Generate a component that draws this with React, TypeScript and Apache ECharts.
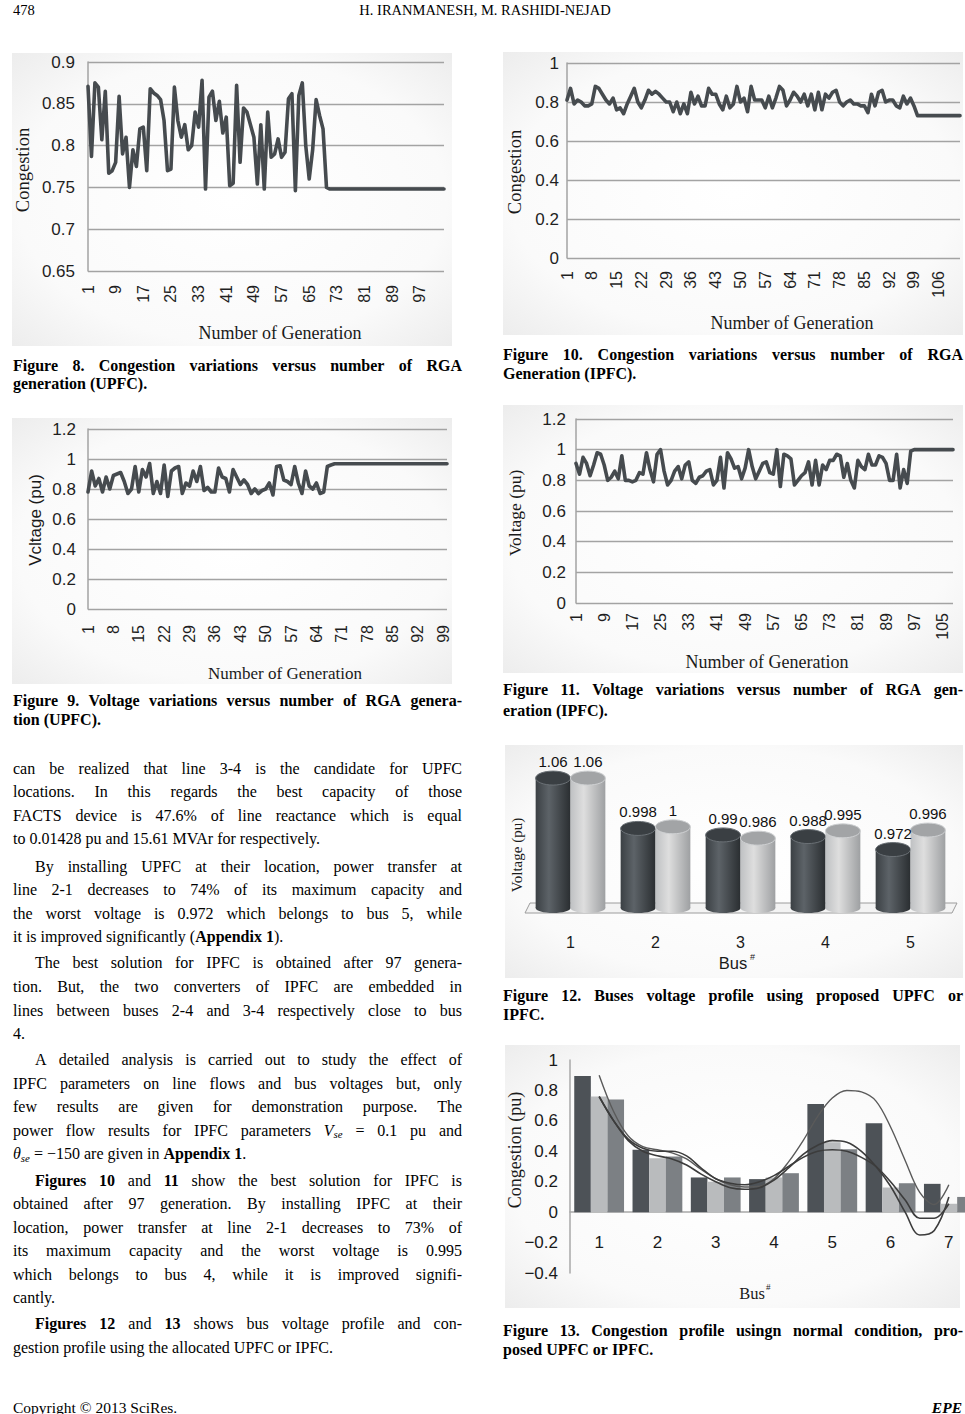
import React, { useEffect, useRef } from 'react';
import * as echarts from 'echarts';

const SERIF = "'Liberation Serif'";
const SANS = "'Liberation Sans'";
const LINE = '#464b4f';
const GRIDC = '#a3a3a3';

// ---------- Figure 8: Congestion (UPFC) ----------
const fig8Congestion = [
  0.871, 0.787, 0.875, 0.87, 0.807, 0.865, 0.767, 0.77, 0.78, 0.859,
  0.79, 0.81, 0.75, 0.795, 0.775, 0.82, 0.822, 0.77, 0.868, 0.863,
  0.86, 0.855, 0.83, 0.77, 0.772, 0.87, 0.83, 0.81, 0.825, 0.795,
  0.8, 0.84, 0.822, 0.878, 0.748, 0.858, 0.865, 0.83, 0.853, 0.815,
  0.834, 0.752, 0.755, 0.872, 0.78, 0.845, 0.84, 0.825, 0.81, 0.754,
  0.825, 0.748, 0.84, 0.786, 0.79, 0.808, 0.786, 0.792, 0.856, 0.862,
  0.746, 0.86, 0.875, 0.8, 0.76, 0.795, 0.855, 0.836, 0.82, 0.75,
  0.748, 0.748, 0.748, 0.748, 0.748, 0.748, 0.748, 0.748, 0.748, 0.748,
  0.748, 0.748, 0.748, 0.748, 0.748, 0.748, 0.748, 0.748, 0.748, 0.748,
  0.748, 0.748, 0.748, 0.748, 0.748, 0.748, 0.748, 0.748, 0.748, 0.748,
  0.748, 0.748, 0.748, 0.748,
];

// ---------- Figure 9: Voltage (UPFC) ----------
const fig9Voltage = [
  0.78, 0.92, 0.82, 0.87, 0.78, 0.88, 0.8, 0.89, 0.9, 0.91,
  0.85, 0.77, 0.8, 0.95, 0.78, 0.93, 0.88, 0.97, 0.77, 0.85,
  0.77, 0.96, 0.75, 0.92, 0.94, 0.95, 0.77, 0.84, 0.82, 0.92,
  0.85, 0.95, 0.79, 0.81, 0.78, 0.78, 0.94, 0.88, 0.87, 0.78,
  0.93, 0.88, 0.83, 0.86, 0.83, 0.77, 0.8, 0.77, 0.79, 0.8,
  0.84, 0.76, 0.95, 0.955, 0.86, 0.85, 0.83, 0.95, 0.84, 0.77,
  0.92, 0.82, 0.8, 0.84, 0.77, 0.78, 0.95, 0.96, 0.968, 0.968,
  0.968, 0.968, 0.968, 0.968, 0.968, 0.968, 0.968, 0.968, 0.968, 0.968,
  0.968, 0.968, 0.968, 0.968, 0.968, 0.968, 0.968, 0.968, 0.968, 0.968,
  0.968, 0.968, 0.968, 0.968, 0.968, 0.968, 0.968, 0.968, 0.968, 0.968,
];

// ---------- Figure 10: Congestion (IPFC) ----------
const fig10Congestion = [
  0.81, 0.87, 0.79, 0.81, 0.8, 0.78, 0.78, 0.79, 0.88, 0.87,
  0.84, 0.81, 0.79, 0.82, 0.76, 0.77, 0.74, 0.79, 0.83, 0.87,
  0.8, 0.77, 0.81, 0.86, 0.84, 0.855, 0.84, 0.82, 0.8, 0.8,
  0.75, 0.8, 0.74, 0.79, 0.74, 0.85, 0.79, 0.83, 0.78, 0.78,
  0.87, 0.84, 0.84, 0.79, 0.76, 0.83, 0.77, 0.79, 0.88, 0.8,
  0.82, 0.75, 0.88, 0.81, 0.81, 0.81, 0.77, 0.83, 0.77, 0.82,
  0.88, 0.86, 0.78, 0.81, 0.85, 0.83, 0.8, 0.84, 0.78, 0.84,
  0.76, 0.85, 0.76, 0.84, 0.82, 0.85, 0.86, 0.8, 0.78, 0.8,
  0.81, 0.79, 0.79, 0.78, 0.78, 0.745, 0.84, 0.78, 0.85, 0.86,
  0.8, 0.81, 0.81, 0.78, 0.77, 0.83, 0.79, 0.82, 0.78, 0.73,
  0.73, 0.73, 0.73, 0.73, 0.73, 0.73, 0.73, 0.73, 0.73, 0.73,
  0.73, 0.73,
];

// ---------- Figure 11: Voltage (IPFC) ----------
const fig11Voltage = [
  0.91, 0.84, 0.95, 0.91, 0.83, 0.9, 0.98, 0.97, 0.9, 0.8,
  0.82, 0.86, 0.81, 0.96, 0.8, 0.8, 0.79, 0.8, 0.85, 0.84,
  0.98, 0.87, 0.79, 0.97, 1.0, 0.86, 0.77, 0.8, 0.86, 0.89,
  0.81, 0.9, 0.92, 0.8, 0.78, 0.82, 0.83, 0.86, 0.87, 0.77,
  0.8, 0.95, 0.75, 0.98, 0.94, 0.88, 0.89, 0.81, 0.88, 1.0,
  0.89, 0.81, 0.86, 0.91, 0.92, 0.85, 0.84, 1.0, 0.76, 0.97,
  0.96, 0.94, 0.77, 0.8, 0.83, 0.85, 0.92, 0.77, 0.93, 0.77,
  0.9, 0.87, 0.93, 0.93, 0.97, 0.96, 0.82, 0.91, 0.8, 0.75,
  0.93, 0.89, 0.87, 0.97, 0.9, 0.9, 0.96, 0.95, 0.91, 0.8,
  0.8, 0.97, 0.75, 0.87, 0.78, 0.99, 1.0, 1.0, 1.0, 1.0,
  1.0, 1.0, 1.0, 1.0, 1.0, 1.0, 1.0, 1.0,
];

// ---------- Figure 12: bus voltage profile ----------
const fig12Buses = ['1', '2', '3', '4', '5'];
const fig12Upfc = [1.06, 0.998, 0.99, 0.988, 0.972];
const fig12Ipfc = [1.06, 1, 0.986, 0.995, 0.996];

// ---------- Figure 13: congestion profile ----------
const fig13Buses = ['1', '2', '3', '4', '5', '6', '7'];
const fig13Normal = [0.895, 0.41, 0.228, 0.217, 0.71, 0.584, 0.186];
const fig13Upfc = [0.76, 0.355, 0.2, 0.228, 0.46, 0.162, 0.055];
const fig13Ipfc = [0.74, 0.365, 0.228, 0.256, 0.414, 0.19, 0.1];
const trendX = [1, 1.25, 1.5, 1.75, 2, 2.25, 2.5, 2.75, 3, 3.25, 3.5, 3.75, 4, 4.25, 4.5, 4.75, 5, 5.25, 5.5, 5.75, 6, 6.25, 6.5, 6.75, 7];
const trendNormal = [0.9, 0.66, 0.5, 0.43, 0.41, 0.39, 0.35, 0.28, 0.22, 0.18, 0.165, 0.17, 0.22, 0.33, 0.47, 0.63, 0.75, 0.8, 0.79, 0.73, 0.56, 0.34, 0.13, 0.05, 0.18];
const trendUpfc = [0.76, 0.6, 0.47, 0.4, 0.37, 0.35, 0.31, 0.25, 0.2, 0.16, 0.15, 0.16, 0.21, 0.29, 0.38, 0.44, 0.47, 0.46, 0.4, 0.3, 0.17, 0.0, -0.15, -0.12, 0.1];
const trendIpfc = [0.76, 0.6, 0.48, 0.42, 0.4, 0.4, 0.37, 0.29, 0.22, 0.19, 0.18, 0.2, 0.24, 0.3, 0.36, 0.4, 0.41, 0.4, 0.36, 0.3, 0.2, 0.08, -0.04, -0.04, 0.055];

// ---------- Page text ----------
const headerLeft = '478';
const headerTitle = 'H. IRANMANESH, M. RASHIDI-NEJAD';
const footerLeft = 'Copyright © 2013 SciRes.';
const footerRight = 'EPE';

type Line = { t: string; y: number; indent?: boolean; end?: boolean };

const bodyLines: Line[] = [
  { t: 'can be realized that line 3-4 is the candidate for UPFC', y: 768 },
  { t: 'locations. In this regards the best capacity of those', y: 791.5 },
  { t: 'FACTS device is 47.6% of line reactance which is equal', y: 815 },
  { t: 'to 0.01428 pu and 15.61 MVAr for respectively.', y: 838.5, end: true },
  { t: 'By installing UPFC at their location, power transfer at', y: 866, indent: true },
  { t: 'line 2-1 decreases to 74% of its maximum capacity and', y: 889.5 },
  { t: 'the worst voltage is 0.972 which belongs to bus 5, while', y: 913 },
  { t: 'it is improved significantly (*Appendix* *1*).', y: 936.5, end: true },
  { t: 'The best solution for IPFC is obtained after 97 genera-', y: 962.5, indent: true },
  { t: 'tion. But, the two converters of IPFC are embedded in', y: 986 },
  { t: 'lines between buses 2-4 and 3-4 respectively close to bus', y: 1010 },
  { t: '4.', y: 1033, end: true },
  { t: 'A detailed analysis is carried out to study the effect of', y: 1059.5, indent: true },
  { t: 'IPFC parameters on line flows and bus voltages but, only', y: 1083 },
  { t: 'few results are given for demonstration purpose. The', y: 1106.5 },
  { t: 'power flow results for IPFC parameters _V_~se~ = 0.1 pu and', y: 1130 },
  { t: '_θ_~se~ = −150 are given in *Appendix* *1*.', y: 1153.5, end: true },
  { t: '*Figures* *10* and *11* show the best solution for IPFC is', y: 1180, indent: true },
  { t: 'obtained after 97 generation. By installing IPFC at their', y: 1203.5 },
  { t: 'location, power transfer at line 2-1 decreases to 73% of', y: 1227 },
  { t: 'its maximum capacity and the worst voltage is 0.995', y: 1250.5 },
  { t: 'which belongs to bus 4, while it is improved signifi-', y: 1274 },
  { t: 'cantly.', y: 1297.5, end: true },
  { t: '*Figures* *12* and *13* shows bus voltage profile and con-', y: 1323.5, indent: true },
  { t: 'gestion profile using the allocated UPFC or IPFC.', y: 1347, end: true },
];

const leftCaptions: Line[] = [
  { t: 'Figure 8. Congestion variations versus number of RGA', y: 365 },
  { t: 'generation (UPFC).', y: 383.5, end: true },
  { t: 'Figure 9. Voltage variations versus number of RGA genera-', y: 700 },
  { t: 'tion (UPFC).', y: 719, end: true },
];
const rightCaptions: Line[] = [
  { t: 'Figure 10. Congestion variations versus number of RGA', y: 354 },
  { t: 'Generation (IPFC).', y: 373.5, end: true },
  { t: 'Figure 11. Voltage variations versus number of RGA gen-', y: 689 },
  { t: 'eration (IPFC).', y: 710, end: true },
  { t: 'Figure 12. Buses voltage profile using proposed UPFC or', y: 995 },
  { t: 'IPFC.', y: 1014, end: true },
  { t: 'Figure 13. Congestion profile usingn normal condition, pro-', y: 1330 },
  { t: 'posed UPFC or IPFC.', y: 1349, end: true },
];

// ---------- helpers ----------
type Seg = { t: string; b?: boolean; i?: boolean; sub?: boolean };
function parseWord(w: string): Seg[] {
  const out: Seg[] = [];
  const re = /\*([^*]+)\*|_([^_]+)_|~([^~]+)~|([^*_~]+)/g;
  let m: RegExpExecArray | null;
  while ((m = re.exec(w))) {
    if (m[1]) out.push({ t: m[1], b: true });
    else if (m[2]) out.push({ t: m[2], i: true });
    else if (m[3]) out.push({ t: m[3], i: true, sub: true });
    else if (m[4]) out.push({ t: m[4] });
  }
  return out;
}

let mctx: CanvasRenderingContext2D | null = null;
function measure(text: string, font: string) {
  if (!mctx) mctx = document.createElement('canvas').getContext('2d');
  mctx!.font = font;
  return mctx!.measureText(text).width;
}
function fontOf(size: number, family: string, bold?: boolean, italic?: boolean) {
  return `${italic ? 'italic ' : ''}${bold ? 'bold ' : ''}${size}px ${family}`;
}

function layoutLines(out: any[], lines: Line[], x0: number, x1: number, size: number, bold: boolean, indent: number) {
  lines.forEach((ln) => {
    const start = x0 + (ln.indent ? indent : 0);
    const words = ln.t.split(' ').filter(Boolean).map(parseWord);
    const segFont = (s: Seg) => fontOf(s.sub ? size * 0.68 : size, SERIF, bold || s.b, s.i);
    const widths = words.map((segs) => segs.reduce((a, s) => a + measure(s.t, segFont(s)), 0));
    const total = widths.reduce((a, b) => a + b, 0);
    const space = measure(' ', fontOf(size, SERIF, bold));
    const gap = !ln.end && words.length > 1 ? (x1 - start - total) / (words.length - 1) : space;
    let x = start;
    words.forEach((segs, i) => {
      let sx = x;
      segs.forEach((s) => {
        out.push({
          type: 'text', x: sx, y: s.sub ? ln.y + 4 : ln.y, silent: true, z: 10,
          style: { text: s.t, font: segFont(s), fill: '#000', align: 'left', verticalAlign: 'middle', textAlign: 'left', textVerticalAlign: 'middle' },
        });
        sx += measure(s.t, segFont(s));
      });
      x += widths[i] + gap;
    });
  });
}

function label(text: string, x: number, y: number, size: number, family: string, opts: any = {}) {
  return {
    type: 'text', x, y, rotation: opts.rotate ? Math.PI / 2 : 0, silent: true, z: 10,
    style: {
      text, font: fontOf(size, family, opts.bold, opts.italic), fill: opts.fill || '#1a1a1a',
      align: opts.align || 'center', verticalAlign: 'middle', textAlign: opts.align || 'center', textVerticalAlign: 'middle',
    },
  };
}

function panel(x: number, y: number, w: number, h: number) {
  return {
    type: 'rect', z: -5, silent: true,
    shape: { x, y, width: w, height: h },
    style: {
      fill: new echarts.graphic.RadialGradient(0.5, 0.5, 0.75, [
        { offset: 0, color: '#ffffff' },
        { offset: 0.65, color: '#fafafa' },
        { offset: 1, color: '#eaeaea' },
      ]),
    },
  };
}

const fmt = (d: number) => (v: number) => {
  const r = Math.round(Math.abs(v) * Math.pow(10, d)) / Math.pow(10, d);
  return (v < 0 ? '−' : '') + String(r);
};

const cats = (n: number) => Array.from({ length: n }, (_, i) => String(i + 1));

function lineX(grid: number, n: number, interval: number, margin: number, shift: number) {
  return {
    type: 'category', gridIndex: grid, data: cats(n), boundaryGap: false,
    axisLine: { show: false }, axisTick: { show: false }, splitLine: { show: false },
    axisLabel: {
      interval, rotate: 90, margin, fontSize: 16, fontFamily: SANS, color: '#1f1f1f',
      padding: [shift * 2, 0, 0, 0],
    },
  };
}
function lineY(grid: number, min: number, max: number, interval: number, margin: number, d: number) {
  return {
    type: 'value', gridIndex: grid, min, max, interval,
    axisLine: { show: true, onZero: false, lineStyle: { color: GRIDC, width: 1.5 } },
    axisTick: { show: false },
    splitLine: { show: true, lineStyle: { color: GRIDC, width: 1.3 } },
    axisLabel: { margin, fontSize: 17, fontFamily: SANS, color: '#1f1f1f', formatter: fmt(d) },
  };
}
function lineSeries(idx: number, data: number[]) {
  return {
    type: 'line', xAxisIndex: idx, yAxisIndex: idx, data, symbol: 'none', silent: true,
    lineStyle: { color: LINE, width: 3.6, join: 'round', cap: 'round' },
  };
}

function cylinder(name: string, data: number[], side: number, body: string[], cap: string, capStroke: string) {
  return {
    type: 'custom', name, xAxisIndex: 4, yAxisIndex: 4, silent: true,
    data: data.map((v, i) => [i, v]),
    renderItem: (params: any, api: any) => {
      const cat = api.value(0);
      const val = api.value(1);
      const top = api.coord([cat, val]);
      const base = api.coord([cat, 0.9]);
      const band = api.size([1, 0])[0];
      const w = band * 0.41;
      const cx = top[0] + side * w / 2;
      const rx = w / 2;
      const grad = new echarts.graphic.LinearGradient(0, 0, 1, 0, [
        { offset: 0, color: body[0] },
        { offset: 0.38, color: body[1] },
        { offset: 1, color: body[2] },
      ]);
      return {
        type: 'group',
        children: [
          { type: 'ellipse', shape: { cx, cy: base[1], rx, ry: 5 }, style: { fill: grad } },
          {
            type: 'rect', shape: { x: cx - rx, y: top[1], width: w, height: base[1] - top[1] }, style: { fill: grad },
            textContent: { style: { text: String(val), fontSize: 15, fontFamily: SANS, fill: '#111' } },
            textConfig: { position: 'top', distance: 9 },
          },
          { type: 'ellipse', shape: { cx, cy: top[1], rx, ry: 7 }, style: { fill: cap, stroke: capStroke, lineWidth: 1 } },
        ],
      };
    },
  };
}

function buildOption() {
  const g: any[] = [];
  // panels
  g.push(panel(12, 53, 440, 293));
  g.push(panel(12, 418, 440, 266));
  g.push(panel(503, 52, 460, 283));
  g.push(panel(503, 405, 460, 268));
  g.push(panel(505, 745, 458, 233));
  g.push(panel(505, 1045, 455, 263));

  // header / footer
  g.push(label(headerLeft, 13, 10, 14.5, SERIF, { align: 'left', fill: '#000' }));
  g.push(label(headerTitle, 485, 10, 14.5, SERIF, { fill: '#000' }));
  g.push(label(footerLeft, 13, 1407, 15.5, SERIF, { align: 'left', fill: '#000' }));
  g.push(label(footerRight, 962, 1407, 15.5, SERIF, { align: 'right', bold: true, italic: true, fill: '#000' }));

  // axis names
  g.push(label('Congestion', 23, 170, 18.5, SERIF, { rotate: true }));
  g.push(label('Number of Generation', 280, 333, 18, SERIF));
  g.push(label('Vcltage (pu)', 35, 520, 17, SANS, { rotate: true }));
  g.push(label('Number of Generation', 285, 673, 17, SERIF));
  g.push(label('Congestion', 515, 172, 18.5, SERIF, { rotate: true }));
  g.push(label('Number of Generation', 792, 323, 18, SERIF));
  g.push(label('Voltage (pu)', 515, 513, 17.5, SERIF, { rotate: true }));
  g.push(label('Number of Generation', 767, 662, 18, SERIF));
  g.push(label('Voltage (pu)', 517, 855, 15, SERIF, { rotate: true }));
  g.push(label('Bus', 733, 963, 16.5, SANS));
  g.push(label('#', 750, 957, 9, SANS, { align: 'left' }));
  g.push(label('Congestion (pu)', 515, 1150, 18, SERIF, { rotate: true }));
  g.push(label('Bus', 752, 1293, 16.5, SERIF));
  g.push(label('#', 766, 1287, 9, SERIF, { align: 'left' }));

  // floor of figure 12
  g.push({
    type: 'polygon', z: 1, silent: true,
    shape: { points: [[530, 903], [957, 903], [952, 913], [525, 913]] },
    style: { fill: '#f3f3f3', stroke: '#9c9c9c', lineWidth: 1 },
  });

  // paragraph text and captions
  layoutLines(g, bodyLines, 13, 462, 16, false, 22);
  layoutLines(g, leftCaptions, 13, 462, 16, true, 0);
  layoutLines(g, rightCaptions, 503, 963, 16, true, 0);

  const grids = [
    { left: 88, top: 62, width: 356, height: 209 },
    { left: 88, top: 429, width: 359, height: 180 },
    { left: 567, top: 63, width: 393, height: 195 },
    { left: 576, top: 419, width: 377, height: 184 },
    { left: 528, top: 745.6, width: 425, height: 162.4 },
    { left: 570, top: 1060, width: 408, height: 213 },
    // upper part of figure 13 (value 0 .. 1), carries the bus axis on the zero line
    { left: 570, top: 1060, width: 408, height: 152.14 },
  ].map((o) => ({ ...o, containLabel: false, outerBoundsMode: 'none' }));

  return {
    animation: false,
    backgroundColor: '#ffffff',
    grid: grids,
    xAxis: [
      lineX(0, fig8Congestion.length, 7, 14, 8),
      lineX(1, fig9Voltage.length, 6, 16, 1),
      lineX(2, fig10Congestion.length, 6, 13, 8),
      lineX(3, fig11Voltage.length, 7, 10, 3),
      {
        type: 'category', gridIndex: 4, data: fig12Buses,
        axisLine: { show: false }, axisTick: { show: false },
        axisLabel: { margin: 26, fontSize: 16, fontFamily: SANS, color: '#1a1a1a' },
      },
      {
        type: 'category', gridIndex: 5, data: fig13Buses,
        axisLine: { show: false }, axisTick: { show: false }, axisLabel: { show: false },
      },
      { type: 'value', gridIndex: 5, min: 0.5, max: 7.5, show: false },
      {
        type: 'category', gridIndex: 6, data: fig13Buses, position: 'bottom',
        axisLine: { show: true, onZero: false, lineStyle: { color: '#a8a8a8', width: 1.5 } },
        axisTick: { show: false },
        axisLabel: { margin: 22, fontSize: 17, fontFamily: SANS, color: '#1a1a1a' },
      },
    ],
    yAxis: [
      lineY(0, 0.65, 0.9, 0.05, 13, 2),
      lineY(1, 0, 1.2, 0.2, 12, 1),
      lineY(2, 0, 1, 0.2, 8, 1),
      lineY(3, 0, 1.2, 0.2, 10, 1),
      { type: 'value', gridIndex: 4, min: 0.9, max: 1.1, show: false },
      {
        type: 'value', gridIndex: 5, min: -0.4, max: 1, interval: 0.2,
        axisLine: { show: true, onZero: false, lineStyle: { color: '#a8a8a8', width: 1.5 } },
        axisTick: { show: false }, splitLine: { show: false },
        axisLabel: { margin: 12, fontSize: 17, fontFamily: SANS, color: '#1a1a1a', formatter: fmt(1) },
      },
      { type: 'value', gridIndex: 6, min: 0, max: 1, show: false },
    ],
    graphic: { elements: g },
    series: [
      lineSeries(0, fig8Congestion),
      lineSeries(1, fig9Voltage),
      lineSeries(2, fig10Congestion),
      lineSeries(3, fig11Voltage),
      cylinder('UPFC', fig12Upfc, -1, ['#3b4044', '#5d6368', '#2a2e31'], '#3a3f43', '#6b7176'),
      cylinder('IPFC', fig12Ipfc, 1, ['#bfc1c3', '#dedede', '#9ea0a2'], '#a2a4a6', '#cfd1d3'),
      { type: 'bar', name: 'Normal', xAxisIndex: 5, yAxisIndex: 5, data: fig13Normal, barWidth: 16.6, barGap: '0%', itemStyle: { color: '#4d5257' }, silent: true },
      { type: 'bar', name: 'UPFC', xAxisIndex: 5, yAxisIndex: 5, data: fig13Upfc, barWidth: 16.6, barGap: '0%', itemStyle: { color: '#b9bbbd' }, silent: true },
      { type: 'bar', name: 'IPFC', xAxisIndex: 5, yAxisIndex: 5, data: fig13Ipfc, barWidth: 16.6, barGap: '0%', itemStyle: { color: '#7c8084' }, silent: true },
      ...[trendNormal, trendUpfc, trendIpfc].map((arr, k) => ({
        type: 'line', xAxisIndex: 6, yAxisIndex: 5, smooth: 0.35, symbol: 'none', silent: true, z: 4,
        data: trendX.map((x, i) => [x, arr[i]]),
        lineStyle: { color: k === 0 ? '#5a5a5a' : '#3c3c3c', width: k === 0 ? 1.4 : 1.6 },
      })),
    ],
  };
}

export default function App() {
  const ref = useRef<HTMLDivElement>(null);
  useEffect(() => {
    const chart = echarts.init(ref.current!, null, { renderer: 'svg' });
    chart.setOption(buildOption() as any);
    return () => chart.dispose();
  }, []);
  return (
    <div
      ref={ref}
      style={{ position: 'absolute', left: 0, top: 0, width: 965, height: 1414, background: '#fff' }}
    />
  );
}
